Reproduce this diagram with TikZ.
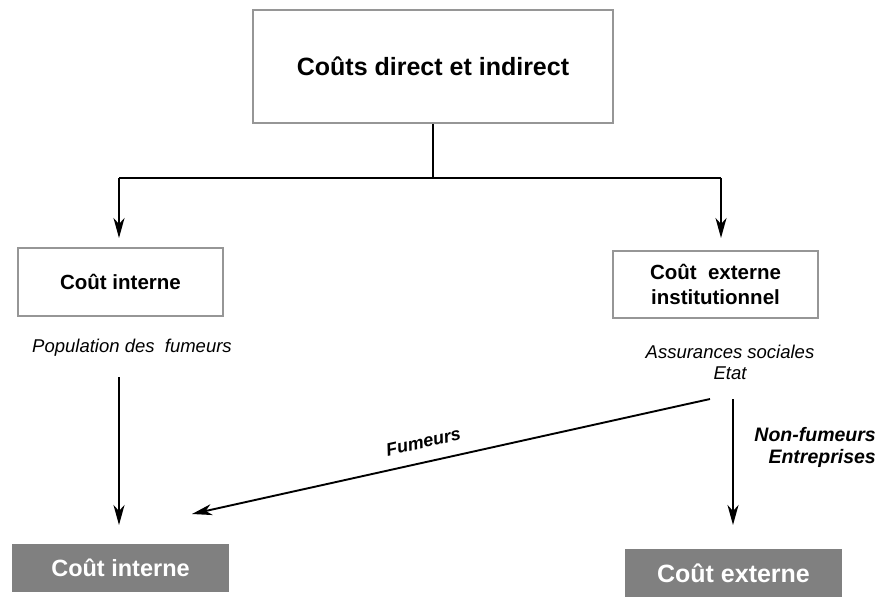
\documentclass[tikz,border=0pt]{standalone}
\usepackage{fontspec}
\setmainfont{Liberation Sans}
\usetikzlibrary{arrows.meta}
\definecolor{boxline}{RGB}{150,150,150}
\definecolor{boxfill}{RGB}{128,128,128}
\tikzset{
  whitebox/.style={draw=boxline, line width=1.8pt, fill=white, inner sep=0pt, font=\bfseries, align=center},
  greybox/.style={fill=boxfill, inner sep=0pt, text=white, font=\bfseries},
  conn/.style={line width=1.9pt, black},
  arr/.style={conn, -{Stealth[length=20pt, width=11pt, inset=6pt]}},
  lbl/.style={font=\itshape, align=center, inner sep=0pt},
  blbl/.style={font=\bfseries\itshape, align=center, inner sep=0pt}
}
\begin{document}
\begin{tikzpicture}[x=1pt,y=-1pt]
\useasboundingbox (0,0) rectangle (880,601);
% boxes
\node[whitebox, minimum width=360pt, minimum height=113pt, font=\fontsize{25}{30}\selectfont\bfseries] (top) at (433,66.5) {Coûts direct et indirect};
\node[whitebox, minimum width=205pt, minimum height=68pt, font=\fontsize{20.5}{25}\selectfont\bfseries] (ci) at (120.5,282) {Coût interne};
\node[whitebox, minimum width=205pt, minimum height=67pt, font=\fontsize{20.5}{25}\selectfont\bfseries] (ce) at (715.5,284.5) {Coût\ \ externe\\institutionnel};
\node[greybox, minimum width=217pt, minimum height=48pt, font=\fontsize{23.5}{28}\selectfont\bfseries] (bi) at (120.5,568) {Coût interne};
\node[greybox, minimum width=217pt, minimum height=48pt, font=\fontsize{25}{30}\selectfont\bfseries] (be) at (733.5,573) {Coût externe};
% labels
\node[lbl, font=\fontsize{18.5}{21}\selectfont\itshape] (pop) at (132,348) {Population des\ \ fumeurs};
\node[lbl, font=\fontsize{18.5}{21}\selectfont\itshape] (ass) at (730,362.5) {Assurances sociales\\Etat};
\node[blbl, font=\fontsize{19.5}{21.5}\selectfont\bfseries\itshape, align=right, anchor=east] (nf) at (876,447.5) {Non-fumeurs\\Entreprises};
% coordinates
\coordinate (jc) at (433,178);
\coordinate (jl) at (119,178);
\coordinate (jr) at (721,178);
\coordinate (tl) at (119,238);
\coordinate (tr) at (721,238);
\coordinate (ls) at (119,377);
\coordinate (le) at (119,525);
\coordinate (ds) at (710,399);
\coordinate (de) at (192,514);
\coordinate (rs) at (733,399);
\coordinate (re) at (733,525);
% connectors
\draw[conn] (top.south) -- (jc);
\draw[conn] (jl) -- (jr);
\draw[arr] (jl) -- (tl);
\draw[arr] (jr) -- (tr);
\draw[arr] (ls) -- (le);
\draw[arr] (ds) -- node[pos=0.545, sloped, above=13pt, blbl, font=\fontsize{18}{20}\selectfont\bfseries\itshape] (fu) {Fumeurs} (de);
\draw[arr] (rs) -- (re);
\end{tikzpicture}
\end{document}
